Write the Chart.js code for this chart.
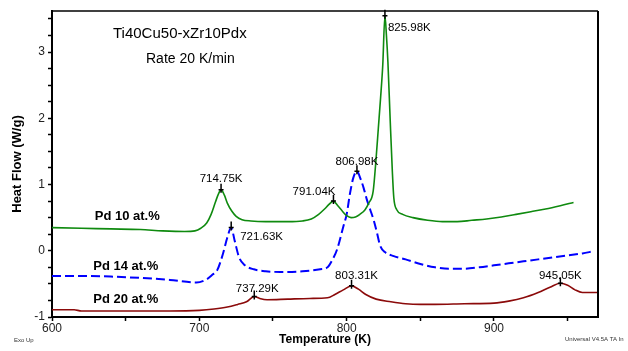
<!DOCTYPE html>
<html><head><meta charset="utf-8">
<script src="https://cdn.jsdelivr.net/npm/chart.js@4/dist/chart.umd.min.js"></script>
<style>html,body{margin:0;padding:0;background:#fff;}canvas{display:block;}</style>
</head><body>
<canvas id="c" width="628" height="351"></canvas>
<script>
// ---- data ----
const tempPd10 = [600,620,640,660,675,690,697,701,705,708,711,713,714.75,717,719,722,725,729,735,745,760,770,776,781,785,788,791.04,794,797,800,803,806,809,812.5,815,818,820,821.5,823,824.5,825.98,827,828,829.5,831,832,834,838,845,855,865,875,885,895,905,915,925,935,945,954];
const flowPd10 = [0.35,0.34,0.33,0.32,0.30,0.29,0.30,0.34,0.42,0.55,0.74,0.86,0.92,0.84,0.72,0.60,0.52,0.47,0.45,0.44,0.44,0.45,0.48,0.55,0.63,0.70,0.75,0.68,0.60,0.53,0.50,0.51,0.55,0.62,0.72,0.90,1.40,1.85,2.30,2.80,3.55,3.25,2.85,2.00,1.20,0.80,0.62,0.55,0.50,0.46,0.44,0.44,0.46,0.48,0.51,0.55,0.59,0.63,0.68,0.73];

const tempPd14 = [600,620,640,660,680,698,705,709,712,716,719,721.63,724,727,731,737,745,755,770,782,787,790,793.5,797.8,800,802.3,804.5,806.98,809.5,811.5,813.6,816,818.5,820.6,822.7,826,832,840,850,860,870,880,890,900,910,920,930,940,950,960,967];
const flowPd14 = [-0.38,-0.38,-0.39,-0.41,-0.44,-0.48,-0.43,-0.36,-0.30,-0.05,0.20,0.35,0.15,-0.10,-0.22,-0.28,-0.31,-0.32,-0.31,-0.28,-0.25,-0.15,0.02,0.37,0.55,0.87,1.10,1.20,1.08,0.95,0.78,0.62,0.45,0.27,0.08,-0.02,-0.08,-0.13,-0.20,-0.25,-0.27,-0.27,-0.25,-0.22,-0.19,-0.16,-0.13,-0.10,-0.07,-0.04,-0.01];

const tempPd20 = [600,615,620,650,680,700,710,719,726,732,737.29,741,746,760,775,787,792,797.7,803.31,808,813,820,830,840,850,860,880,900,910,920,930,938,945.05,950,955,960,970];
const flowPd20 = [-0.89,-0.89,-0.91,-0.91,-0.91,-0.90,-0.88,-0.85,-0.81,-0.77,-0.69,-0.72,-0.74,-0.73,-0.72,-0.71,-0.66,-0.59,-0.53,-0.58,-0.66,-0.73,-0.77,-0.80,-0.81,-0.81,-0.80,-0.79,-0.76,-0.71,-0.63,-0.55,-0.49,-0.52,-0.59,-0.63,-0.63];

const peakTemps  = [714.75, 721.63, 791.04, 806.98, 825.98, 737.29, 803.31, 945.05];
const peakFlows  = [0.92, 0.35, 0.75, 1.20, 3.55, -0.69, -0.53, -0.49];
const peakLabels = ['714.75K','721.63K','791.04K','806.98K','825.98K','737.29K','803.31K','945.05K'];

const seriesNames = ['Pd 10 at.%','Pd 14 at.%','Pd 20 at.%'];
const seriesLabelTemps = [629, 628, 628];
const seriesLabelFlows = [0.52, -0.23, -0.74];

const xTicks = [600,650,700,750,800,850,900,950];
const xLabelTicks = [600,700,800,900];
const yTicks = [-1,-0.75,-0.5,-0.25,0,0.25,0.5,0.75,1,1.25,1.5,1.75,2,2.25,2.5,2.75,3,3.25,3.5];
const yLabelTicks = [-1,0,1,2,3];

const titleLine1 = 'Ti40Cu50-xZr10Pdx';
const titleLine2 = 'Rate 20 K/min';
const xTitle = 'Temperature (K)';
const yTitle = 'Heat Flow (W/g)';
const footLeft = 'Exo Up';
const footRight = 'Universal V4.5A TA In';

// ---- styles ----
const FONT = '"Liberation Sans", Arial, sans-serif';
const colors = ['#0f8a0f', '#0000ff', '#8b0a0a'];
// label offsets (px) relative to each peak: dx, dy, align
const peakLabelOffsets = [[0,-11,'center'],[9,9,'left'],[2,-9,'right'],[0,-9,'center'],[3,12,'left'],[3,-8,'center'],[5,-10,'center'],[0,-7,'center']];

function pts(xs, ys){ return xs.map((x,i)=>({x:x, y:ys[i]})); }

const overlay = {
  id: 'overlay',
  afterDatasetsDraw(chart){
    const ctx = chart.ctx, xs = chart.scales.x, ys = chart.scales.y;
    ctx.save();
    ctx.strokeStyle = '#000'; ctx.lineWidth = 1.5;
    ctx.fillStyle = '#000';
    ctx.font = '11.5px ' + FONT;
    ctx.textBaseline = 'middle';
    peakTemps.forEach((t,i)=>{
      const px = xs.getPixelForValue(t), py = ys.getPixelForValue(peakFlows[i]);
      ctx.beginPath();
      ctx.moveTo(px, py-6); ctx.lineTo(px, py+3);
      ctx.moveTo(px-2.5, py); ctx.lineTo(px+2.5, py);
      ctx.stroke();
      const o = peakLabelOffsets[i];
      ctx.textAlign = o[2];
      ctx.fillText(peakLabels[i], px+o[0], py+o[1]);
    });
    ctx.font = 'bold 13px ' + FONT;
    ctx.textAlign = 'left';
    seriesNames.forEach((n,i)=>{
      ctx.fillText(n, xs.getPixelForValue(seriesLabelTemps[i]), ys.getPixelForValue(seriesLabelFlows[i]));
    });
    const ca = chart.chartArea;
    ctx.textAlign = 'left';
    ctx.font = '15px ' + FONT;
    ctx.fillText(titleLine1, ca.left + 61, 34);
    ctx.font = '14px ' + FONT;
    ctx.fillText(titleLine2, ca.left + 94, 59);
    ctx.restore();
  },
  afterDraw(chart){
    const ctx = chart.ctx, ca = chart.chartArea;
    ctx.save();
    ctx.strokeStyle = '#000';
    ctx.lineWidth = 1.3;
    ctx.beginPath();
    ctx.moveTo(ca.left, ca.top); ctx.lineTo(ca.right, ca.top);
    ctx.stroke();
    ctx.lineWidth = 2;
    ctx.beginPath();
    ctx.moveTo(ca.right, ca.top); ctx.lineTo(ca.right, ca.bottom);
    ctx.stroke();
    ctx.fillStyle = '#333';
    ctx.font = '6px ' + FONT;
    ctx.textBaseline = 'middle';
    ctx.textAlign = 'left';
    ctx.fillText(footLeft, 14, 340);
    ctx.fillText(footRight, 565, 339);
    ctx.restore();
  }
};

new Chart(document.getElementById('c'), {
  type: 'line',
  data: {
    datasets: [
      {label: seriesNames[0], data: pts(tempPd10, flowPd10), borderColor: colors[0], borderWidth: 1.6},
      {label: seriesNames[1], data: pts(tempPd14, flowPd14), borderColor: colors[1], borderWidth: 2, borderDash: [9,4]},
      {label: seriesNames[2], data: pts(tempPd20, flowPd20), borderColor: colors[2], borderWidth: 1.6}
    ]
  },
  options: {
    responsive: false,
    animation: false,
    devicePixelRatio: 1,
    parsing: false,
    elements: { point: { radius: 0 }, line: { cubicInterpolationMode: 'monotone', fill: false } },
    layout: { padding: { top: 11, right: 30, left: 0, bottom: 0 } },
    plugins: { legend: { display: false }, tooltip: { enabled: false } },
    scales: {
      x: {
        type: 'linear', min: 600, max: 970.6,
        afterBuildTicks: s => { s.ticks = xTicks.map(v => ({value: v})); },
        afterFit: s => { s.height = 34; },
        grid: { drawOnChartArea: false, tickLength: 4, tickColor: '#000', tickWidth: 1.5 },
        border: { color: '#000', width: 2 },
        ticks: { autoSkip: false, maxRotation: 0, padding: 0, color: '#222', font: { family: FONT, size: 12 },
                 callback: v => xLabelTicks.includes(v) ? String(v) : '' },
        title: { display: true, text: xTitle, color: '#000', font: { family: FONT, size: 12, weight: 'bold' }, padding: { top: 0, bottom: 4 } }
      },
      y: {
        type: 'linear', min: -1, max: 3.62,
        afterBuildTicks: s => { s.ticks = yTicks.map(v => ({value: v})); },
        afterFit: s => { s.width = 52; },
        grid: { drawOnChartArea: false, tickLength: 4, tickColor: '#000', tickWidth: 1.5 },
        border: { color: '#000', width: 2 },
        ticks: { autoSkip: false, padding: 3, color: '#222', font: { family: FONT, size: 12 },
                 callback: v => yLabelTicks.includes(v) ? String(v) : '' },
        title: { display: true, text: yTitle, color: '#000', font: { family: FONT, size: 13, weight: 'bold' }, padding: { top: 10, bottom: 0 } }
      }
    }
  },
  plugins: [overlay]
});
</script>
</body></html>
